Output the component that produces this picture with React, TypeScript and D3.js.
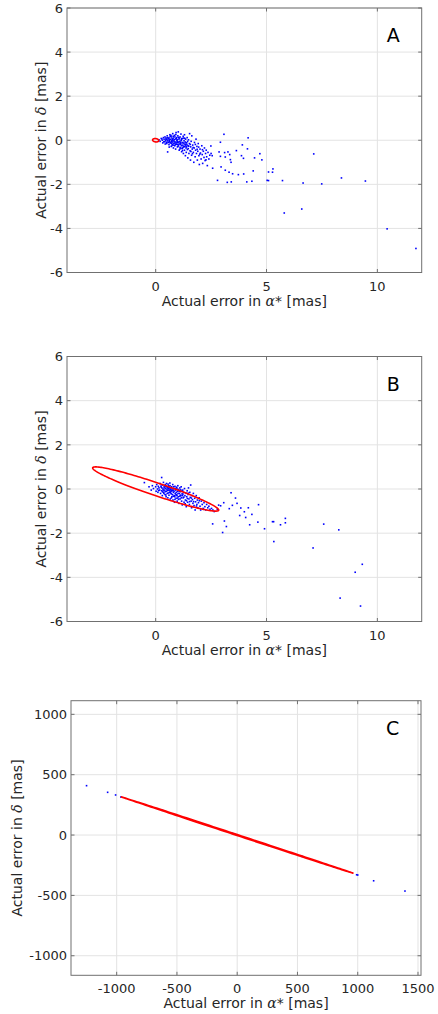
import React from "react";
import * as d3 from "d3";

// ---------- DATA ----------
// Panel A: dense cluster near origin
const clusterA: [number, number][] = [
  [0.15,0.02],[0.2,-0.05],[0.25,0.08],[0.3,0.0],[0.32,-0.12],[0.35,0.12],[0.38,0.05],[0.4,-0.06],[0.42,0.15],[0.45,-0.02],
  [0.47,0.1],[0.5,-0.15],[0.5,0.03],[0.52,0.2],[0.55,-0.08],[0.57,0.07],[0.6,-0.2],[0.6,0.12],[0.62,-0.02],[0.64,0.25],
  [0.65,-0.12],[0.67,0.04],[0.7,-0.28],[0.7,0.15],[0.72,-0.06],[0.74,0.08],[0.75,-0.18],[0.77,0.3],[0.78,-0.01],[0.8,-0.35],
  [0.8,0.1],[0.82,-0.14],[0.84,0.02],[0.85,0.22],[0.86,-0.25],[0.88,-0.08],[0.9,0.06],[0.9,-0.4],[0.92,0.35],[0.93,-0.18],
  [0.95,0.12],[0.96,-0.02],[0.98,-0.3],[1.0,0.2],[1.0,-0.1],[1.02,0.38],[1.03,-0.22],[1.05,0.05],[1.06,-0.45],[1.08,-0.05],
  [1.1,0.15],[1.1,-0.32],[1.12,-0.15],[1.14,0.28],[1.15,-0.02],[1.17,-0.52],[1.18,-0.25],[1.2,0.08],[1.2,-0.38],[1.22,-0.1],
  [1.24,0.18],[1.25,-0.6],[1.27,-0.3],[1.28,-0.02],[1.3,-0.45],[1.3,0.25],[1.32,-0.18],[1.34,-0.7],[1.35,0.05],[1.37,-0.35],
  [1.38,-0.55],[1.4,-0.12],[1.42,0.12],[1.43,-0.42],[1.45,-0.8],[1.46,-0.25],[1.48,0.02],[1.5,-0.6],[1.52,-0.15],[1.53,0.3],
  [1.55,-0.48],[1.57,-0.9],[1.58,-0.3],[1.6,-0.05],[1.62,-0.68],[1.63,0.2],[1.65,-0.4],[1.67,-0.22],[1.7,-0.55],[1.72,-1.0],
  [1.74,-0.35],[1.75,-0.1],[1.78,-0.75],[1.8,-0.45],[1.82,0.05],[1.84,-0.6],[1.86,-0.28],[1.88,-0.9],[1.9,-0.5],[1.92,-0.15],
  [1.95,-0.7],[1.97,-1.1],[2.0,-0.4],[2.02,-0.58],[2.05,-0.85],[2.08,-0.25],[2.1,-0.65],[2.12,-1.05],[2.15,-0.5],[2.18,-0.78],
  [2.2,-0.35],[2.23,-0.92],[2.25,-0.6],[2.28,-0.45],[2.3,-0.75],[2.33,-1.15],[2.36,-0.55],[2.4,-0.85],[2.44,-0.68],[2.5,-0.6],
  [0.55,0.0],[0.68,-0.1],[0.73,0.0],[0.83,-0.05],[0.87,0.15],[0.94,-0.12],[0.97,0.02],[1.04,-0.08],[1.07,0.1],[1.13,-0.2],
  [1.16,0.02],[1.19,-0.12],[1.23,-0.22],[1.26,0.1],[1.29,-0.28],[1.33,-0.08],[1.36,-0.2],[1.39,-0.3],[1.44,-0.05],[1.47,-0.38],
  [0.62,0.05],[0.79,0.18],[0.89,-0.2],[1.01,-0.28],[1.09,-0.4],[0.91,0.26],[0.76,-0.08],[0.66,0.18],[0.58,-0.1],[0.46,0.05],
  [0.43,-0.17],[0.54,-0.53],[0.61,-0.31],[0.69,0.22],[0.71,-0.14],[0.81,-0.22],[0.93,0.07],[0.99,-0.19],[1.11,-0.09],[1.21,-0.47],
  [1.27,-0.13],[1.31,0.09],[1.41,-0.21],[1.49,-0.27],[1.59,-0.51],[1.69,-0.33],[1.79,-0.19],[1.87,-0.41],[1.99,-0.63],[2.11,-0.43],
  [0.37,-0.07],[0.53,0.11],[0.63,-0.06],[0.77,0.04],[0.87,-0.13],[0.97,-0.07],[1.03,0.13],[1.17,0.07],[1.23,-0.33],[1.37,-0.11],
  [0.28,0.06],[0.48,-0.09],[0.74,-0.24],[1.06,-0.17],[1.14,-0.36],[1.34,-0.26],[1.56,-0.19],[1.66,-0.61],[1.94,-0.31],[2.27,-0.89],
];

// Panel A: scattered outliers
const outliersA: [number, number][] = [
  [3.08,0.27],[4.17,0.11],[3.91,-0.21],[2.92,-0.09],[2.49,-0.26],[4.14,-0.39],[4.7,-0.61],[4.79,-0.89],[4.46,-0.8],[3.87,-0.7],
  [3.96,-0.82],[3.64,-0.47],[3.26,-0.53],[3.11,-0.56],[3.34,-0.65],[3.37,-0.88],[3.4,-1.0],[3.14,-0.76],[2.92,-0.73],[2.86,-0.53],
  [2.95,-1.21],[3.14,-1.36],[3.31,-1.45],[3.47,-1.52],[3.73,-1.56],[3.97,-1.53],[4.4,-1.39],[5.29,-1.3],[5.27,-1.45],[5.09,-1.44],
  [5.03,-1.82],[5.09,-1.83],[5.72,-1.83],[6.65,-1.94],[7.49,-1.98],[8.38,-1.71],[9.46,-1.85],[7.13,-0.62],[2.79,-1.82],[3.23,-1.91],
  [3.41,-1.89],[4.11,-1.89],[4.34,-1.86],[5.8,-3.3],[6.59,-3.12],[10.44,-4.02],[11.74,-4.91],[2.55,-0.7],[2.57,-1.27],
];

// Panel B: dense cluster
const clusterB: [number, number][] = [
  [-0.3,0.1],[-0.2,-0.05],[-0.15,0.15],[-0.1,0.02],[0.0,0.1],[0.02,-0.1],[0.05,0.2],[0.08,0.0],[0.1,-0.15],[0.12,0.12],
  [0.15,0.05],[0.18,-0.05],[0.2,0.25],[0.22,-0.2],[0.25,0.08],[0.27,-0.08],[0.3,0.18],[0.3,-0.3],[0.33,0.0],[0.35,0.3],
  [0.36,-0.15],[0.38,0.1],[0.4,-0.05],[0.42,-0.25],[0.44,0.2],[0.45,0.02],[0.47,-0.35],[0.48,-0.1],[0.5,0.12],[0.52,-0.2],
  [0.53,0.05],[0.55,-0.4],[0.56,0.22],[0.58,-0.05],[0.6,-0.28],[0.61,0.08],[0.63,-0.15],[0.65,0.15],[0.66,-0.45],[0.68,-0.02],
  [0.7,-0.22],[0.72,0.1],[0.73,-0.35],[0.75,-0.08],[0.77,0.2],[0.78,-0.5],[0.8,-0.15],[0.82,0.02],[0.84,-0.3],[0.85,-0.6],
  [0.87,0.12],[0.88,-0.2],[0.9,-0.05],[0.92,-0.42],[0.94,0.08],[0.95,-0.25],[0.97,-0.55],[0.99,-0.1],[1.0,0.15],[1.02,-0.35],
  [1.04,-0.02],[1.05,-0.65],[1.07,-0.2],[1.09,0.05],[1.1,-0.45],[1.12,-0.12],[1.14,-0.3],[1.15,0.1],[1.17,-0.55],[1.19,-0.22],
  [1.2,-0.72],[1.22,-0.05],[1.24,-0.4],[1.26,-0.15],[1.28,-0.6],[1.3,0.02],[1.32,-0.3],[1.34,-0.5],[1.36,-0.18],[1.38,-0.8],
  [1.4,-0.35],[1.42,-0.08],[1.44,-0.6],[1.46,-0.25],[1.48,0.05],[1.5,-0.45],[1.52,-0.7],[1.54,-0.15],[1.56,-0.38],[1.58,0.18],
  [1.6,-0.55],[1.62,-0.85],[1.64,-0.3],[1.66,-0.48],[1.68,-0.65],[1.7,-0.2],[1.73,-0.75],[1.76,-0.42],[1.78,-0.95],[1.8,-0.58],
  [1.83,-0.3],[1.86,-0.7],[1.88,-0.5],[1.9,-0.85],[1.93,-0.62],[1.96,-0.4],[2.0,-0.78],[2.03,-0.95],[2.06,-0.55],[2.1,-0.7],
  [2.14,-0.88],[2.18,-0.62],[2.22,-0.8],[2.26,-0.95],[2.3,-0.7],[2.35,-0.85],[2.4,-0.78],[2.45,-0.92],[2.52,-0.88],[2.58,-0.95],
  [0.28,0.05],[0.34,-0.05],[0.39,0.05],[0.43,-0.12],[0.46,0.1],[0.51,-0.02],[0.54,0.1],[0.57,-0.18],[0.62,0.0],[0.64,-0.08],
  [0.67,0.05],[0.69,-0.12],[0.74,0.0],[0.76,-0.25],[0.79,-0.05],[0.83,-0.1],[0.86,-0.35],[0.89,0.02],[0.93,-0.15],[0.96,-0.3],
  [1.01,-0.2],[1.06,-0.1],[1.11,-0.28],[1.16,-0.4],[1.21,-0.3],[0.37,-0.2],[0.49,0.25],[0.59,0.15],[0.71,-0.4],[0.81,0.1],
  [0.13,-0.07],[0.24,0.13],[0.41,0.16],[0.57,0.03],[0.66,-0.17],[0.79,-0.33],[0.91,-0.27],[1.03,-0.47],[1.13,-0.04],[1.27,-0.37],
  [1.39,-0.53],[1.47,-0.19],[1.61,-0.41],[1.71,-0.57],[1.84,-0.77],[1.97,-0.53],[0.31,-0.13],[0.46,-0.27],[0.64,0.27],[0.96,0.03],
  [1.09,-0.33],[1.23,-0.23],[1.33,-0.67],[1.53,-0.57],[0.71,-0.07],[0.87,-0.47],[0.54,-0.07],[0.99,-0.41],[1.19,-0.09],[1.43,-0.43],
];

// Panel B: scattered outliers
const outliersB: [number, number][] = [
  [-0.51,0.29],[0.27,0.52],[3.4,-0.17],[3.6,-0.41],[3.07,-0.62],[2.93,-0.76],[3.46,-0.74],[3.32,-0.89],[3.67,-0.65],[3.84,-0.86],
  [4.18,-0.85],[4.64,-0.71],[4.0,-1.03],[4.34,-1.15],[3.79,-1.2],[4.06,-1.29],[4.61,-1.5],[4.24,-1.62],[4.91,-1.8],[5.27,-1.48],
  [5.32,-1.48],[5.63,-1.62],[5.85,-1.33],[5.85,-1.53],[2.57,-1.58],[3.1,-1.45],[3.19,-1.7],[3.02,-1.97],[5.33,-2.38],[7.1,-2.67],
  [7.58,-1.59],[8.26,-1.85],[9.0,-3.77],[9.32,-3.41],[8.32,-4.94],[9.24,-5.3],[2.78,-0.92],[2.84,-0.73],[2.64,-1.02],[2.16,-0.92],
];

// Panel C: points (most lie under the red ellipse)
const pointsC: [number, number][] = [
  [-1250,409],[-1075,354],[-1009,332],[-965,315],[-620,205],[-310,102],[-40,14],[260,-86],[540,-178],[800,-264],
  [991,-329],[1000,-331],[1132,-379],[1392,-464],
];

// Error ellipses: [centerX, centerY, semiMajor, semiMinor, angleDeg]
const ellipseA = [0, 0, 0.14, 0.075, -8];
const ellipseB = [0, 0, 3.0, 0.29, -18.7];
const ellipseC = [0, 0, 1015, 4, -18.2];

// Axes ticks
const xTicksAB = [0, 5, 10];
const yTicksAB = [-6, -4, -2, 0, 2, 4, 6];
const xTicksC = [-1000, -500, 0, 500, 1000, 1500];
const yTicksC = [-1000, -500, 0, 500, 1000];
const panelLabels = ["A", "B", "C"];

// ---------- RENDERING ----------
const FONT = "'DejaVu Sans', sans-serif";
const TEXT = "#262626";
const AXIS = "#707070";
const GRID = "#e3e3e3";

type Panel = {
  left: number; right: number; top: number; bottom: number;
  xDom: [number, number]; yDom: [number, number];
  xTicks: number[]; yTicks: number[];
  points: [number, number][][];
  ellipse: number[];
  label: string;
  yLabelX: number;
};

function ellipsePath(e: number[], x: d3.ScaleLinear<number, number>, y: d3.ScaleLinear<number, number>) {
  const [cx, cy, a, b, angDeg] = e;
  const th = (angDeg * Math.PI) / 180;
  const pts: [number, number][] = d3.range(0, 361, 2).map((deg) => {
    const t = (deg * Math.PI) / 180;
    const ex = a * Math.cos(t);
    const ey = b * Math.sin(t);
    return [x(cx + ex * Math.cos(th) - ey * Math.sin(th)), y(cy + ex * Math.sin(th) + ey * Math.cos(th))];
  });
  return d3.line()(pts) + "Z";
}

function PanelView({ p, id }: { p: Panel; id: string }) {
  const x = d3.scaleLinear().domain(p.xDom).range([p.left, p.right]);
  const y = d3.scaleLinear().domain(p.yDom).range([p.bottom, p.top]);
  const tl = 3.5;
  return (
    <g>
      <defs>
        <clipPath id={id}>
          <rect x={p.left} y={p.top} width={p.right - p.left} height={p.bottom - p.top} />
        </clipPath>
      </defs>
      <rect x={p.left} y={p.top} width={p.right - p.left} height={p.bottom - p.top} fill="#fff" />
      {p.xTicks.map((t) => (
        <line key={"gx" + t} x1={x(t)} x2={x(t)} y1={p.top} y2={p.bottom} stroke={GRID} strokeWidth={1} />
      ))}
      {p.yTicks.map((t) => (
        <line key={"gy" + t} x1={p.left} x2={p.right} y1={y(t)} y2={y(t)} stroke={GRID} strokeWidth={1} />
      ))}
      <g clipPath={`url(#${id})`}>
        {p.points.map((arr, i) =>
          arr.map((d, j) => (
            <rect key={i + "-" + j} x={x(d[0]) - 0.8} y={y(d[1]) - 0.8} width={1.6} height={1.6} fill="#0000ff" />
          ))
        )}
        <path d={ellipsePath(p.ellipse, x, y)} fill="none" stroke="#ff0000" strokeWidth={1.6} />
      </g>
      {p.xTicks.map((t) => (
        <g key={"tx" + t}>
          <line x1={x(t)} x2={x(t)} y1={p.bottom} y2={p.bottom - tl} stroke={AXIS} />
          <line x1={x(t)} x2={x(t)} y1={p.top} y2={p.top + tl} stroke={AXIS} />
          <text x={x(t)} y={p.bottom + 18} textAnchor="middle" fontSize={13} fill={TEXT} fontFamily={FONT}>
            {t}
          </text>
        </g>
      ))}
      {p.yTicks.map((t) => (
        <g key={"ty" + t}>
          <line x1={p.left} x2={p.left + tl} y1={y(t)} y2={y(t)} stroke={AXIS} />
          <line x1={p.right} x2={p.right - tl} y1={y(t)} y2={y(t)} stroke={AXIS} />
          <text x={p.left - 4} y={y(t) + 4.7} textAnchor="end" fontSize={13} fill={TEXT} fontFamily={FONT}>
            {t}
          </text>
        </g>
      ))}
      <rect x={p.left} y={p.top} width={p.right - p.left} height={p.bottom - p.top} fill="none" stroke={AXIS} strokeWidth={1} />
      <text x={p.right - 35} y={p.top + 34} fontSize={19} fill="#000" fontFamily={FONT}>
        {p.label}
      </text>
      <text x={(p.left + p.right) / 2} y={p.bottom + 33} textAnchor="middle" fontSize={14} fill={TEXT} fontFamily={FONT}>
        Actual error in{" "}
        <tspan fontFamily="'DejaVu Serif', serif" fontStyle="italic">α</tspan>* [mas]
      </text>
      <text
        transform={`translate(${p.yLabelX},${(p.top + p.bottom) / 2}) rotate(-90)`}
        textAnchor="middle"
        fontSize={14}
        fill={TEXT}
        fontFamily={FONT}
      >
        Actual error in{" "}
        <tspan fontFamily="'DejaVu Serif', serif" fontStyle="italic">δ</tspan> [mas]
      </text>
    </g>
  );
}

export default function App() {
  const panels: Panel[] = [
    {
      left: 67, right: 421.7, top: 8, bottom: 272.5,
      xDom: [-4, 12], yDom: [-6, 6], xTicks: xTicksAB, yTicks: yTicksAB,
      points: [clusterA, outliersA], ellipse: ellipseA, label: panelLabels[0], yLabelX: 46,
    },
    {
      left: 67, right: 421.7, top: 356.5, bottom: 621.5,
      xDom: [-4, 12], yDom: [-6, 6], xTicks: xTicksAB, yTicks: yTicksAB,
      points: [clusterB, outliersB], ellipse: ellipseB, label: panelLabels[1], yLabelX: 46,
    },
    {
      left: 71, right: 421, top: 700.7, bottom: 975.3,
      xDom: [-1379, 1525], yDom: [-1162, 1113], xTicks: xTicksC, yTicks: yTicksC,
      points: [pointsC], ellipse: ellipseC, label: panelLabels[2], yLabelX: 22,
    },
  ];
  return (
    <svg width={438} height={1014} style={{ position: "absolute", left: 0, top: 0, background: "#fff" }}>
      <rect width={438} height={1014} fill="#fff" />
      {panels.map((p, i) => (
        <PanelView key={i} p={p} id={"clip" + i} />
      ))}
    </svg>
  );
}
